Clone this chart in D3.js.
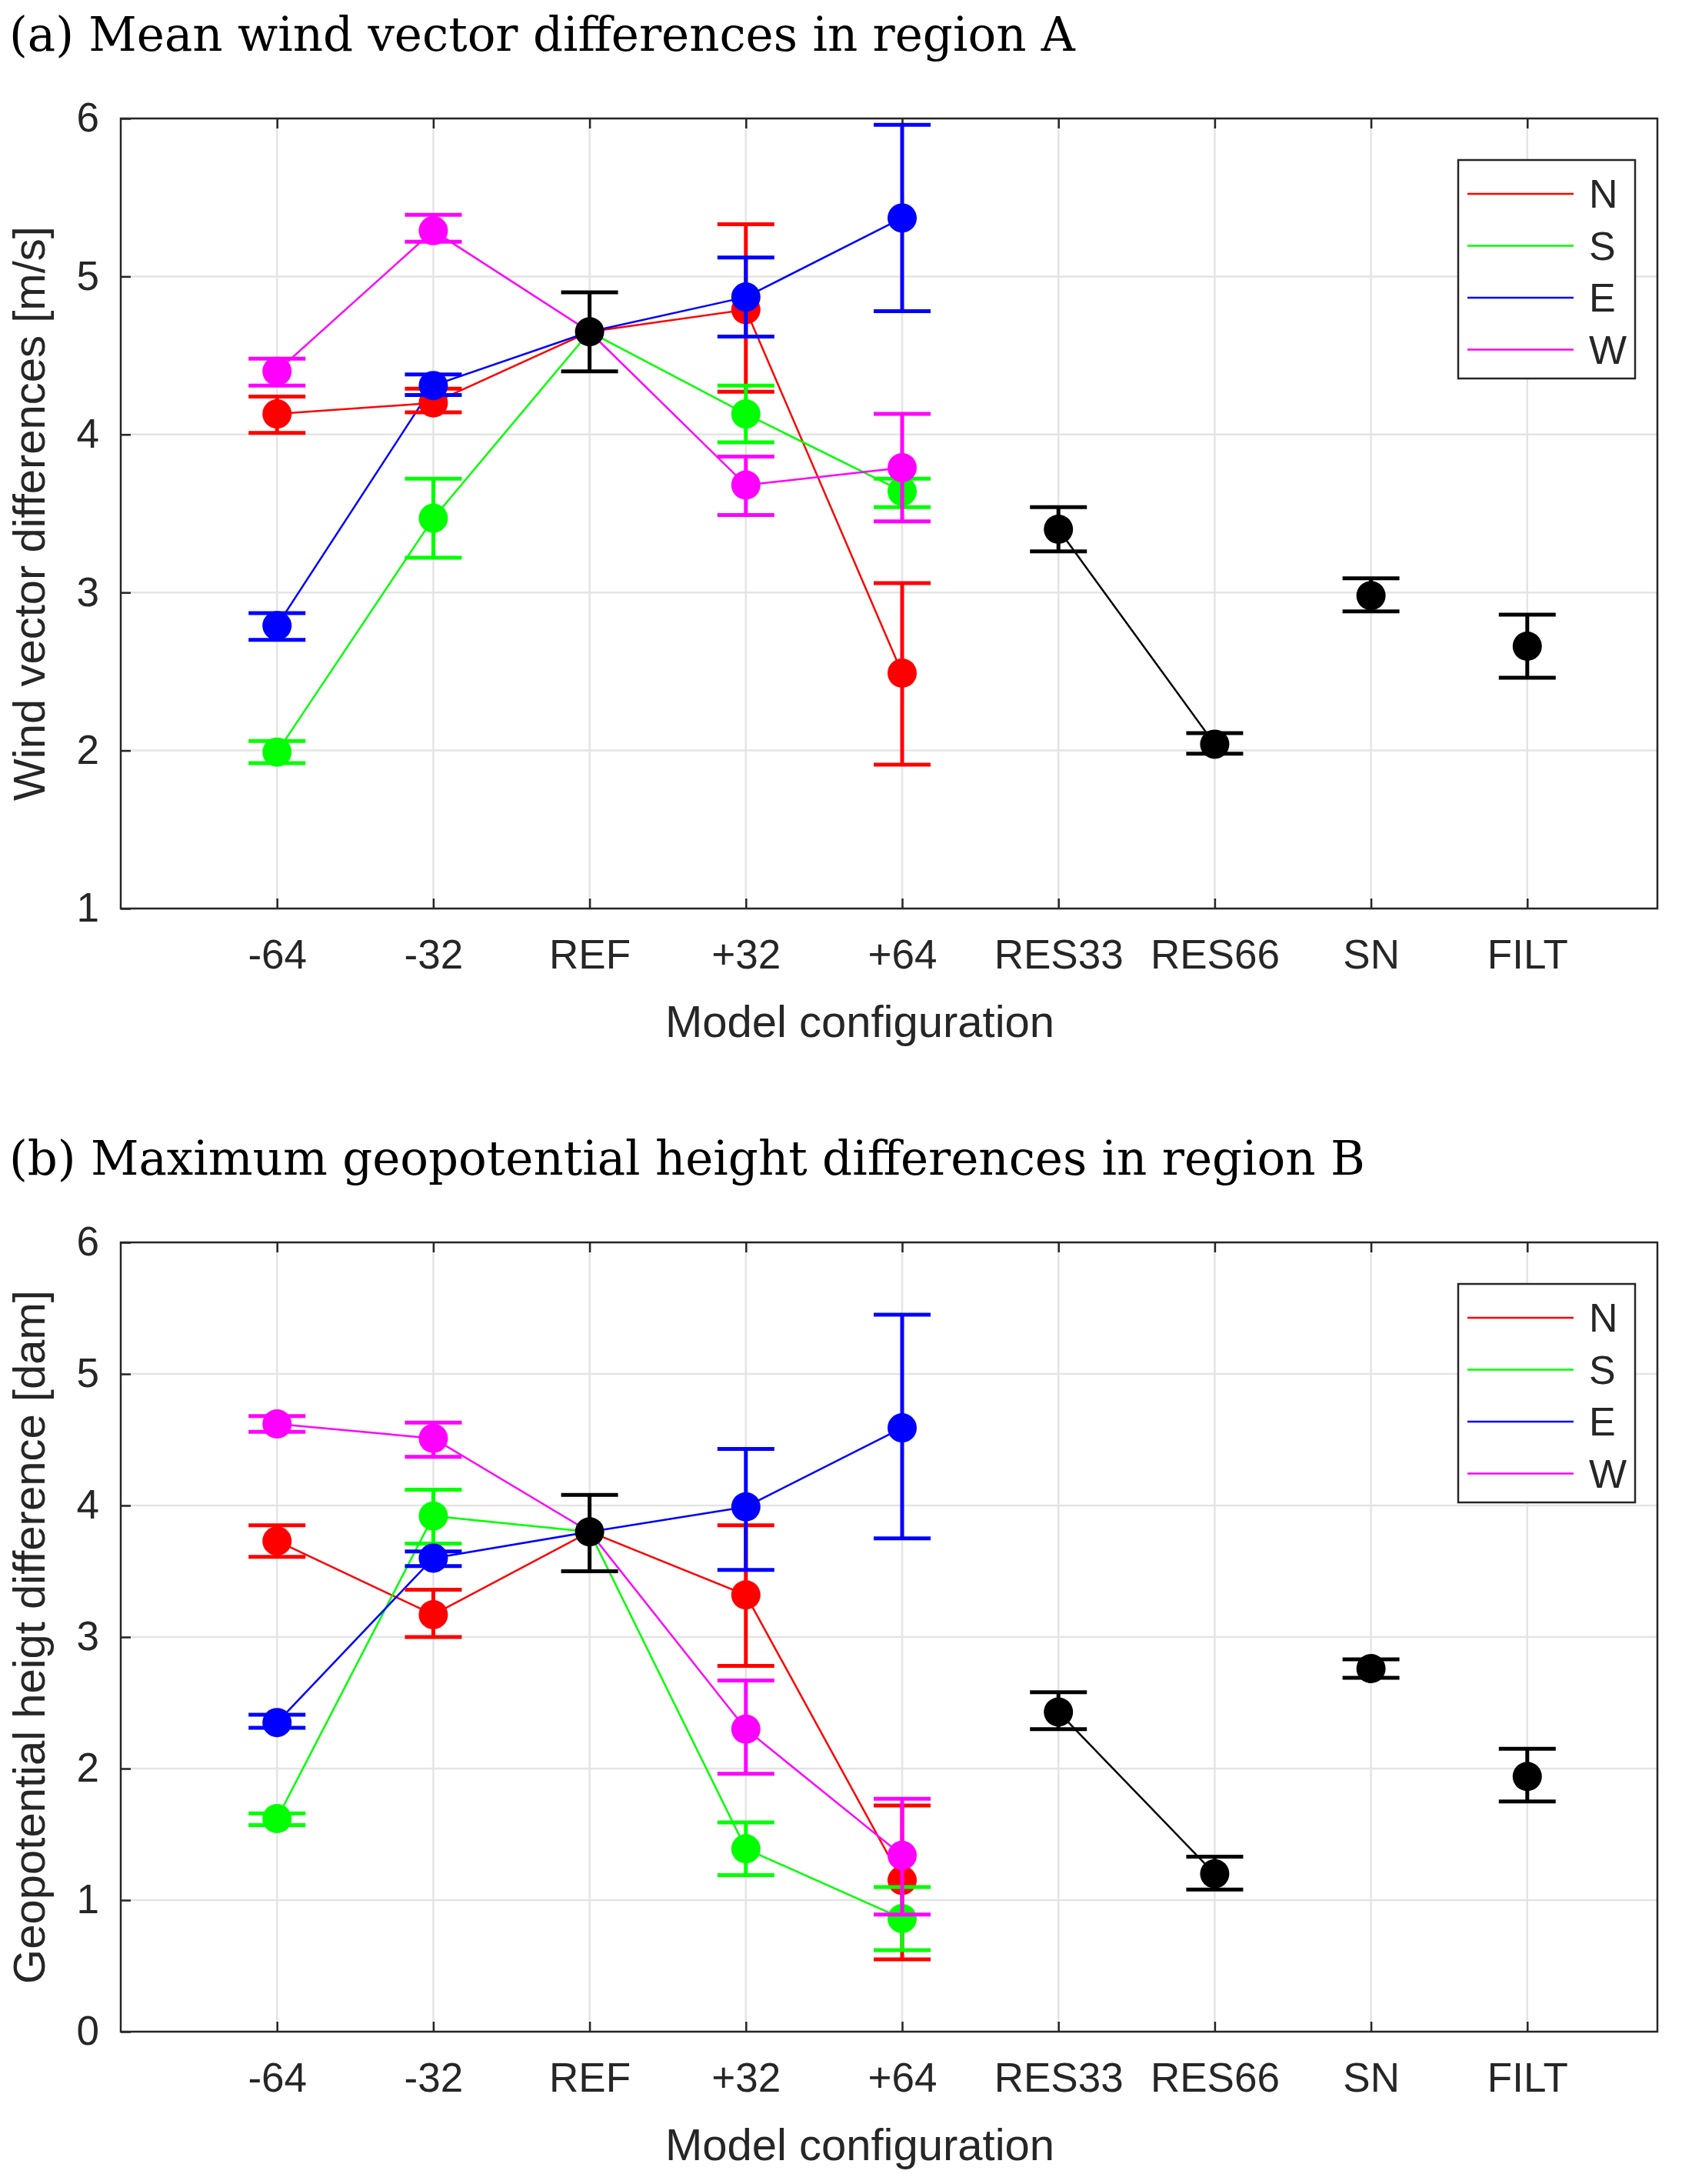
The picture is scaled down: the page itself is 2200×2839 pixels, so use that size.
<!DOCTYPE html>
<html><head><meta charset="utf-8">
<script src="https://cdn.jsdelivr.net/npm/d3@7"></script>
<style>body{margin:0;background:#fff}</style>
</head><body>
<div id="chart"></div>
<script>
const cats = ["-64", "-32", "REF", "+32", "+64", "RES33", "RES66", "SN", "FILT"];
const colors = { N: "#ff0000", S: "#00ff00", E: "#0000ff", W: "#ff00ff" };

// [value, upper, lower] at -64, -32, +32, +64 ; REF shared
const panels = [
  {
    title: "(a) Mean wind vector differences in region A",
    ylabel: "Wind vector differences [m/s]",
    ydomain: [1, 6], top: 154, bottom: 1181,
    ref: [4.65, 4.90, 4.40],
    series: {
      N: [[4.13, 4.24, 4.01], [4.20, 4.29, 4.14], [4.79, 5.33, 4.27], [2.49, 3.06, 1.91]],
      S: [[1.99, 2.06, 1.92], [3.47, 3.72, 3.22], [4.13, 4.31, 3.95], [3.64, 3.72, 3.54]],
      E: [[2.79, 2.87, 2.70], [4.31, 4.38, 4.25], [4.87, 5.12, 4.62], [5.37, 5.96, 4.78]],
      W: [[4.40, 4.48, 4.31], [5.29, 5.39, 5.22], [3.68, 3.86, 3.49], [3.79, 4.13, 3.45]]
    },
    others: [[3.40, 3.54, 3.26], [2.04, 2.11, 1.98], [2.98, 3.09, 2.88], [2.66, 2.86, 2.46]]
  },
  {
    title: "(b) Maximum geopotential height differences in region B",
    ylabel: "Geopotential heigt difference [dam]",
    ydomain: [0, 6], top: 1615, bottom: 2641,
    ref: [3.80, 4.08, 3.50],
    series: {
      N: [[3.73, 3.85, 3.61], [3.17, 3.36, 3.00], [3.32, 3.85, 2.78], [1.15, 1.72, 0.55]],
      S: [[1.62, 1.66, 1.57], [3.92, 4.12, 3.71], [1.39, 1.59, 1.19], [0.86, 1.10, 0.62]],
      E: [[2.35, 2.41, 2.31], [3.60, 3.65, 3.54], [3.99, 4.43, 3.51], [4.59, 5.45, 3.75]],
      W: [[4.62, 4.68, 4.56], [4.51, 4.63, 4.37], [2.30, 2.67, 1.96], [1.34, 1.77, 0.89]]
    },
    others: [[2.43, 2.58, 2.30], [1.20, 1.33, 1.08], [2.76, 2.83, 2.69], [1.94, 2.15, 1.75]]
  }
];

const width = 2200, height = 2839, left = 157, right = 2155;
const svg = d3.select("#chart").append("svg")
  .attr("width", width).attr("height", height)
  .style("font-family", "Liberation Sans, Arial, sans-serif");

const xScale = d3.scaleLinear().domain([0, 9]).range([left, left + 9 * 203.2]);
const R = 19, cap = 37;

panels.forEach(p => {
  const y = d3.scaleLinear().domain(p.ydomain).range([p.bottom, p.top]);
  const g = svg.append("g");

  //grid
  const yt = d3.range(p.ydomain[0], p.ydomain[1] + 0.01, 1);
  yt.forEach(t => g.append("line").attr("x1", left).attr("x2", right)
    .attr("y1", y(t)).attr("y2", y(t)).attr("stroke", "#e4e4e4").attr("stroke-width", 2.5));
  cats.forEach((c, i) => g.append("line").attr("x1", xScale(i + 1)).attr("x2", xScale(i + 1))
    .attr("y1", p.top).attr("y2", p.bottom).attr("stroke", "#e4e4e4").attr("stroke-width", 2.5));

  //axes
  const yAxis = d3.axisLeft(y).tickValues(yt).tickSize(-13).tickPadding(28).tickFormat(d3.format("d"));
  const ya = g.append("g").attr("transform", `translate(${left},0)`).call(yAxis);
  const xAxis = d3.axisBottom(xScale).tickValues(d3.range(1, 10)).tickSize(-13).tickPadding(40)
    .tickFormat(d => cats[d - 1]);
  const xa = g.append("g").attr("transform", `translate(0,${p.bottom})`).call(xAxis);
  const xt = g.append("g").attr("transform", `translate(0,${p.top})`)
    .call(d3.axisTop(xScale).tickValues(d3.range(1, 10)).tickSize(-13).tickFormat(""));
  [ya, xa, xt].forEach(a => {
    a.select(".domain").remove();
    a.selectAll("line").attr("stroke", "#262626").attr("stroke-width", 2.5);
    a.selectAll("text").attr("font-size", 53).attr("fill", "#262626").attr("font-family", "Liberation Sans, Arial, sans-serif");
  });
  g.append("rect").attr("x", left).attr("y", p.top).attr("width", right - left).attr("height", p.bottom - p.top)
    .attr("fill", "none").attr("stroke", "#262626").attr("stroke-width", 2.5);

  //labels
  g.append("text").attr("x", 12).attr("y", p.top - 88).attr("font-size", 61)
    .attr("font-family", "DejaVu Serif, Liberation Serif, serif").text(p.title);
  g.append("text").attr("x", 1118).attr("y", p.bottom + 167).attr("text-anchor", "middle")
    .attr("font-size", 58).attr("fill", "#262626").text("Model configuration");
  g.append("text").attr("transform", `translate(58,${(p.top + p.bottom) / 2}) rotate(-90)`)
    .attr("text-anchor", "middle").attr("font-size", 58).attr("fill", "#262626").text(p.ylabel);

  const errbar = (xi, v, col) => {
    const x = xScale(xi);
    g.append("line").attr("x1", x).attr("x2", x).attr("y1", y(v[1])).attr("y2", y(v[2])).attr("stroke", col).attr("stroke-width", 5);
    [v[1], v[2]].forEach(e => g.append("line").attr("x1", x - cap).attr("x2", x + cap)
      .attr("y1", y(e)).attr("y2", y(e)).attr("stroke", col).attr("stroke-width", 5));
  };
  const line = d3.line().x(d => xScale(d[0])).y(d => y(d[1]));

  //series
  Object.entries(p.series).forEach(([k, vals]) => {
    const pts = [[1, vals[0]], [2, vals[1]], [3, p.ref], [4, vals[2]], [5, vals[3]]];
    g.append("path").attr("d", line(pts.map(d => [d[0], d[1][0]]))).attr("fill", "none")
      .attr("stroke", colors[k]).attr("stroke-width", 2.5);
  });
  Object.entries(p.series).forEach(([k, vals]) => {
    [[1, vals[0]], [2, vals[1]], [4, vals[2]], [5, vals[3]]].forEach(([xi, v]) => {
      errbar(xi, v, colors[k]);
      g.append("circle").attr("cx", xScale(xi)).attr("cy", y(v[0])).attr("r", R).attr("fill", colors[k]);
    });
  });
  // REF + others in black
  g.append("path").attr("d", line([[6, p.others[0][0]], [7, p.others[1][0]]])).attr("fill", "none")
    .attr("stroke", "black").attr("stroke-width", 2.5);
  [[3, p.ref]].concat(p.others.map((v, i) => [i + 6, v])).forEach(([xi, v]) => {
    errbar(xi, v, "black");
    g.append("circle").attr("cx", xScale(xi)).attr("cy", y(v[0])).attr("r", R).attr("fill", "black");
  });

  //legend
  const lx = 1896, ly = p.top + 54, lw = 230, lh = 284;
  g.append("rect").attr("x", lx).attr("y", ly).attr("width", lw).attr("height", lh)
    .attr("fill", "white").attr("stroke", "#262626").attr("stroke-width", 2.5);
  ["N", "S", "E", "W"].forEach((k, i) => {
    const yy = ly + 44 + i * 67.5;
    g.append("line").attr("x1", lx + 12).attr("x2", lx + 150).attr("y1", yy).attr("y2", yy)
      .attr("stroke", colors[k]).attr("stroke-width", 2.5);
    g.append("text").attr("x", lx + 170).attr("y", yy + 18).attr("font-size", 52).attr("fill", "#262626").text(k);
  });
});
</script>
</body></html>
